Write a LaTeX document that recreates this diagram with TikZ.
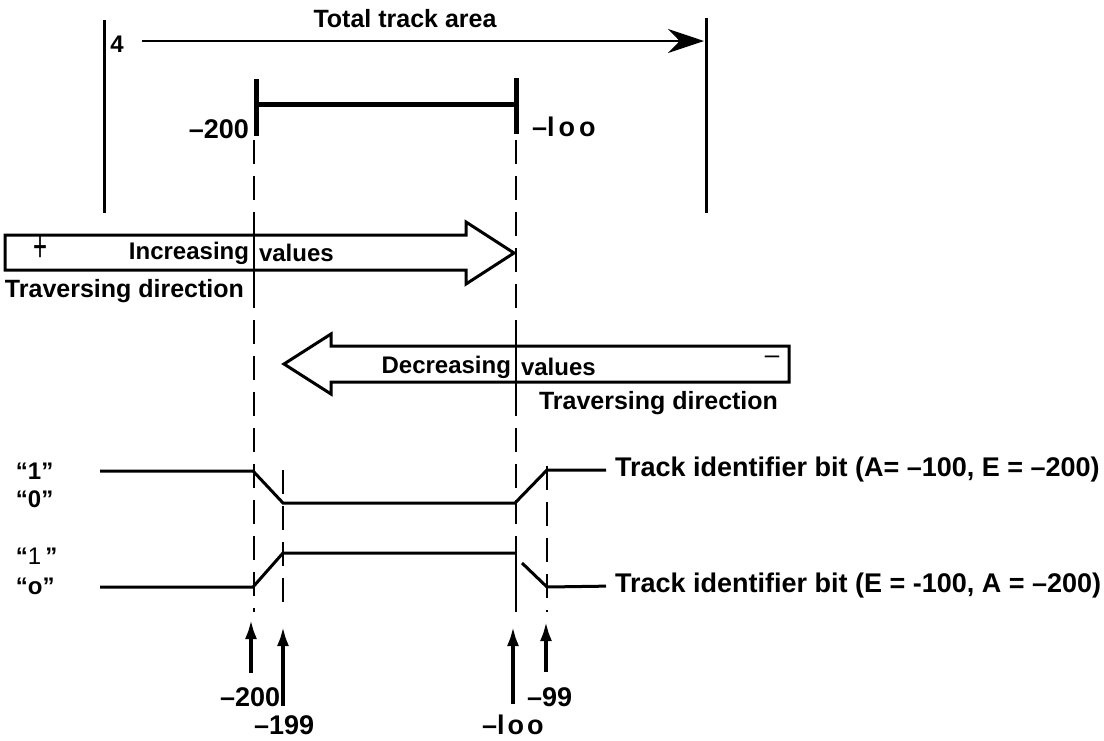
\documentclass[tikz,border=0pt]{standalone}
\usepackage{fontspec}
\setmainfont{Liberation Sans}
\usetikzlibrary{arrows.meta}
\begin{document}
\begin{tikzpicture}[x=1pt,y=-1pt,
  every node/.style={inner sep=0pt,outer sep=0pt,font=\bfseries\fontsize{24}{28}\selectfont},
  big/.style={font=\bfseries\fontsize{27}{30}\selectfont},
  num/.style={font=\bfseries\fontsize{27}{30}\selectfont},
  rail/.style={line width=3pt},
  bracket/.style={line width=5pt},
  guide/.style={line width=2.6pt,dash pattern=on 24pt off 12pt},
  solidguide/.style={line width=2.6pt},
  signal/.style={line width=3pt,line join=miter},
  hollow/.style={line width=3pt,line join=miter},
  marker/.style={line width=4pt,-{Latex[length=20pt,width=12pt]}}]
\useasboundingbox (0,0) rectangle (1104,740);

% --- total track area ---
\node[font=\bfseries\fontsize{25}{28}\selectfont] (title) at (405,19) {Total track area};
\coordinate (lbT) at (104,20);  \coordinate (lbB) at (104,213);
\coordinate (rbT) at (706,18);  \coordinate (rbB) at (706,213);
\draw[rail] (lbT) -- (lbB);
\draw[rail] (rbT) -- (rbB);
\node (four) at (117,44) {4};
\coordinate (taS) at (142,41); \coordinate (taE) at (704,41);
\draw[line width=2.5pt,-{Stealth[length=36pt,width=24pt]}] (taS) -- (taE);

% --- identifier range bracket ---
\coordinate (brL) at (256,104); \coordinate (brR) at (516,104);
\coordinate (tkLT) at (256,79); \coordinate (tkLB) at (256,136);
\coordinate (tkRT) at (516,78); \coordinate (tkRB) at (516,134);
\draw[bracket] (brL) -- (brR);
\draw[bracket] (tkLT) -- (tkLB);
\draw[bracket] (tkRT) -- (tkRB);
\node[anchor=east,num] (m200) at (249,129) {–200};
\node[anchor=west,num] (m100) at (532,127) {–l\kern4pt o\kern4pt o};

% --- guide lines ---
\coordinate (gA1) at (254,140); \coordinate (gA2) at (254,612);
\coordinate (gB1) at (516,140); \coordinate (gB2) at (516,612);
\coordinate (gC1) at (283,470); \coordinate (gC2) at (283,612);
\coordinate (gD1) at (547,466); \coordinate (gD2) at (547,612);
\draw[guide] (gA1) -- (gA2);
\draw[guide] (gB1) -- (gB2);
\draw[guide] (gC1) -- (gC2);
\draw[guide] (gD1) -- (gD2);
\coordinate (sA1) at (254,220); \coordinate (sA2) at (254,292);
\coordinate (sB1) at (516,333); \coordinate (sB2) at (516,400);
\coordinate (sB3) at (516,550); \coordinate (sB4) at (516,612);
\draw[solidguide] (sA1) -- (sA2);
\draw[solidguide] (sB1) -- (sB2);
\draw[solidguide] (sB3) -- (sB4);

% --- increasing direction ---
\coordinate (incTip) at (514,253);
\draw[hollow] (5,235) -- (466,235) -- (466,222) -- (incTip) -- (466,284)
  -- (466,270) -- (5,270) -- cycle;
\node[font=\fontsize{24}{26}\selectfont] (plus) at (41,249) {\scalebox{1}[1.8]{+}};
\node[anchor=east] (incL) at (249,253) {Increasing};
\node[anchor=west] (incR) at (259,253) {values};
\node[anchor=west,font=\bfseries\fontsize{25}{28}\selectfont] (travA) at (5,291) {Traversing direction};

% --- decreasing direction ---
\coordinate (decTip) at (284,364);
\draw[hollow] (789,346) -- (331,346) -- (331,334) -- (decTip) -- (331,394)
  -- (331,382) -- (789,382) -- cycle;
\node[font=\fontsize{26}{28}\selectfont] (minus) at (772,360) {–};
\node[anchor=east] (decL) at (511,367) {Decreasing};
\node[anchor=west] (decR) at (521,367) {values};
\node[anchor=east,font=\bfseries\fontsize{25}{28}\selectfont] (travB) at (778,403) {Traversing direction};

% --- identifier bits ---
\node[anchor=west] (q1a) at (16,471) {“1”};
\node[anchor=west] (q0a) at (16,499) {“0”};
\node[anchor=west] (q1b) at (16,556) {“{\mdseries 1}\,”};
\node[anchor=west] (q0b) at (16,586) {“o”};

\node[anchor=west,big] (bitA) at (615,470) {Track identifier bit (A= –100, E = –200)};
\node[anchor=west,big] (bitB) at (615,586) {Track identifier bit (E = -100, A = –200)};

\draw[signal,shorten >=9pt] (100,471) -- (253,471) -- (283,503) -- (515,503) -- (547,470) -- (bitA.west);
\draw[signal] (100,587) -- (253,587) -- (283,553) -- (515,553);
\draw[signal,shorten >=9pt] (522,563) -- (547,587) -- (bitB.west);

% --- position markers ---
\node[anchor=west,num] (p200) at (220,697) {–200};
\node[anchor=west,num] (p199) at (254,725) {–199};
\node[anchor=west,num] (p100) at (482,725) {–l\kern3pt o\kern3pt o};
\node[anchor=west,num] (p99) at (527,697) {–99};
\coordinate (a1) at (251,673); \coordinate (a1t) at (251,619);
\coordinate (a2) at (283,706); \coordinate (a2t) at (283,626);
\coordinate (a3) at (513,704); \coordinate (a3t) at (513,626);
\coordinate (a4) at (546,672); \coordinate (a4t) at (546,621);
\draw[marker] (a1) -- (a1t);
\draw[marker] (a2) -- (a2t);
\draw[marker] (a3) -- (a3t);
\draw[marker] (a4) -- (a4t);
\end{tikzpicture}
\end{document}
